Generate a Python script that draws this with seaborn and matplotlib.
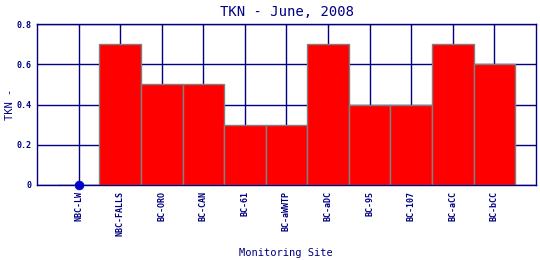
import matplotlib
matplotlib.use("Agg")
import matplotlib.pyplot as plt
import seaborn as sns
import pandas as pd
import numpy as np

sites = ["NBC-LW", "NBC-FALLS", "BC-ORO", "BC-CAN", "BC-61", "BC-aWWTP",
         "BC-aDC", "BC-95", "BC-107", "BC-aCC", "BC-bCC"]
tkn = [0.0, 0.7, 0.5, 0.5, 0.3, 0.3, 0.7, 0.4, 0.4, 0.7, 0.6]
yticks = [0, 0.2, 0.4, 0.6, 0.8]
ytick_labels = ["0", "0.2", "0.4", "0.6", "0.8"]

df = pd.DataFrame({"site": sites, "tkn": tkn})

sns.set_style("white")
plt.rcParams['font.family'] = ['DejaVu Sans Mono', 'DejaVu Sans']
navy = "#000080"

fig = plt.figure(figsize=(5.4, 2.6), dpi=100)
ax = fig.add_axes([37/540, 1-185/260, (536-37)/540, (185-24)/260])

sns.barplot(data=df, x="site", y="tkn", color="#ff0000", saturation=1,
            width=1.0, edgecolor="#808080", linewidth=1.0, ax=ax, zorder=2)
zero = df[df["tkn"] == 0]
sns.scatterplot(data=zero, x="site", y="tkn", color="#0000cc", s=40,
                edgecolor="#0000cc", ax=ax, zorder=5, clip_on=False)

ax.set_axisbelow(True)
ax.xaxis.grid(True, color=navy, linewidth=1.0)
ax.yaxis.grid(True, color=navy, linewidth=1.0)

ax.set_xlim(-1, len(sites))
ax.set_ylim(0, 0.8)
ax.set_yticks(yticks)
ax.set_yticklabels(ytick_labels)
ax.tick_params(axis="both", length=0, colors=navy, labelsize=6)
ax.tick_params(axis="x", pad=4)
ax.tick_params(axis="y", pad=4)
for lbl in ax.get_xticklabels():
    lbl.set_rotation(90)
    lbl.set_fontweight("bold")
for lbl in ax.get_yticklabels():
    lbl.set_fontweight("bold")
for s in ax.spines.values():
    s.set_color(navy)
    s.set_linewidth(1.0)
    s.set_visible(True)

ax.set_title("TKN - June, 2008", color=navy, fontsize=10, pad=6)
ax.set_xlabel("Monitoring Site", color=navy, fontsize=7.5)
ax.set_ylabel("TKN -", color=navy, fontsize=7.5)
# place axis labels in figure pixel positions
ax.xaxis.set_label_coords(286/540, 1-253/260, transform=fig.transFigure)
ax.xaxis.label.set_va("center")
ax.yaxis.set_label_coords(10/540, 1-104/260, transform=fig.transFigure)
ax.yaxis.label.set_va("center")

fig.savefig("out.png", dpi=100)
